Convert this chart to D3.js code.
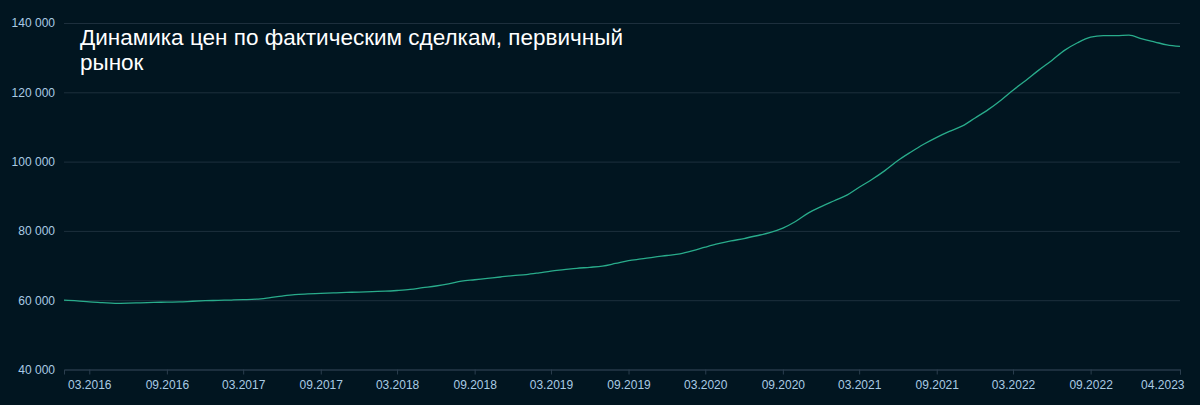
<!DOCTYPE html>
<html><head><meta charset="utf-8">
<script src="https://cdn.jsdelivr.net/npm/d3@7"></script>
<style>
html,body{margin:0;padding:0;background:#011520;}
svg{display:block;}
</style></head>
<body>
<svg id="chart" width="1200" height="405"></svg>
<script>
const titleLines = ["Динамика цен по фактическим сделкам, первичный", "рынок"];
const startMonth = "2016-01";
const prices = [
 60000,59800,59500,59300,59100,59150,59250,59350,59450,59500,59700,59850,
 59950,60050,60150,60300,60700,61200,61600,61800,61950,62100,62250,62350,
 62500,62600,62800,63100,63600,64100,64700,65500,65900,66300,66700,67100,
 67400,67900,68400,68800,69200,69500,69850,70600,71400,71900,72450,72900,
 73400,74300,75300,76300,77100,77800,78600,79500,80800,82700,85200,87000,
 88700,90400,92600,94900,97400,100300,102700,105000,107000,108700,110300,112600,
 115000,117800,120600,123500,126400,129200,132100,134300,135900,136350,136350,136500,
 135400,134500,133700,133250
];
const yTicks = [40000,60000,80000,100000,120000,140000];
const xTickLabels = ["03.2016","09.2016","03.2017","09.2017","03.2018","09.2018","03.2019","09.2019","03.2020","09.2020","03.2021","09.2021","03.2022","09.2022","04.2023"];

(function(){
const parseM = d3.timeParse("%Y-%m");
const parseL = d3.timeParse("%m.%Y");
const fmtL = d3.timeFormat("%m.%Y");
const t0 = parseM(startMonth);
const data = prices.map((v,i)=>({date:d3.timeMonth.offset(t0,i), value:v}));

const svg = d3.select("#chart");
const mLeft=64, mRight=1180, mTop=23, mBottom=369.5;
const x = d3.scaleTime().domain([data[0].date, data[data.length-1].date]).range([mLeft,mRight]);
const y = d3.scaleLinear().domain([40000,140000]).range([mBottom,mTop]);

const fmtY = v => d3.format(",")(v).replace(/,/g," ");
const font = "Liberation Sans, Arial, sans-serif";

svg.append("g").attr("transform",`translate(${mLeft},0)`)
  .call(d3.axisLeft(y).tickValues(yTicks).tickSize(-(mRight-mLeft)).tickPadding(9).tickFormat(fmtY))
  .call(g=>g.select(".domain").remove())
  .call(g=>g.selectAll(".tick line").attr("stroke","#1d2f3d").attr("stroke-width",1))
  .call(g=>g.selectAll(".tick text").attr("fill","#a9cbe4").attr("font-size","12px").attr("font-family",font));

svg.append("g").attr("transform",`translate(0,${mBottom})`)
  .call(d3.axisBottom(x).tickValues(xTickLabels.map(parseL)).tickSize(5).tickPadding(6).tickFormat(fmtL))
  .call(g=>g.select(".domain").attr("stroke","#2b3e4e"))
  .call(g=>g.selectAll(".tick line").attr("stroke","#2b3e4e"))
  .call(g=>g.selectAll(".tick text").attr("fill","#a9cbe4").attr("font-size","12px").attr("font-family",font))
  .call(g=>g.selectAll(".tick:last-of-type text").attr("text-anchor","end").attr("dx","4"));

svg.append("path").datum(data)
  .attr("fill","none").attr("stroke","#29ac8b").attr("stroke-width",1.3)
  .attr("d", d3.line().x(d=>x(d.date)).y(d=>y(d.value)).curve(d3.curveMonotoneX));

const title = svg.append("text").attr("x",80).attr("y",45)
  .attr("fill","#ffffff").attr("font-size","22.5px").attr("font-family",font);
title.selectAll("tspan").data(titleLines).join("tspan")
  .attr("x",80).attr("dy",(d,i)=> i===0?0:25).text(d=>d);
})();
</script>
</body></html>
